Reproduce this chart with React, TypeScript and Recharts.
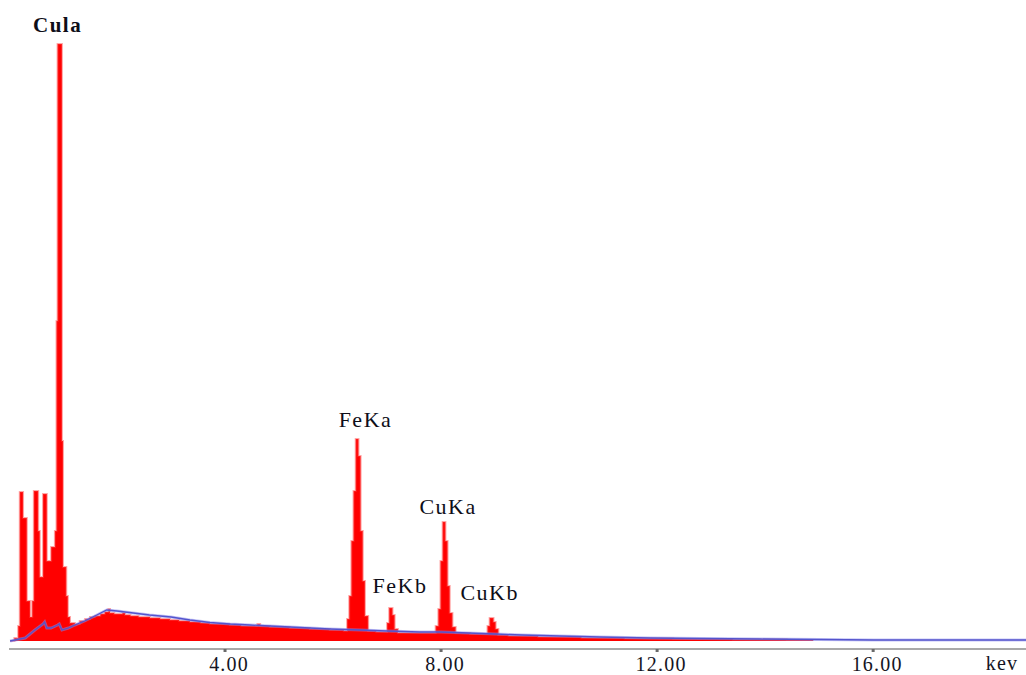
import React from 'react';
import { ComposedChart, Area, Line, XAxis, YAxis, ReferenceDot } from 'recharts';

// Measured spectrum: channel start energy (keV) and counts (arbitrary units)
const spectrumEnergy = [
  0.02, 0.1, 0.17, 0.2, 0.26, 0.33, 0.39, 0.43, 0.46, 0.54, 0.57, 0.63, 0.7, 0.78, 0.85, 0.88,
  0.9, 0.98, 1.0, 1.06, 1.09, 1.13, 1.22, 1.31, 1.41, 1.5, 1.59, 1.69, 1.77, 1.84, 1.87, 1.95,
  2.02, 2.1, 2.15, 2.25, 2.4, 2.5, 2.61, 2.8, 2.98, 3.15, 3.35, 3.55, 3.72, 3.9, 4.09, 4.3,
  4.46, 4.6, 4.65, 4.83, 5.0, 5.2, 5.4, 5.57, 5.75, 5.94, 6.1, 6.2, 6.26, 6.3, 6.34, 6.38,
  6.42, 6.47, 6.51, 6.55, 6.59, 6.65, 6.8, 6.96, 7.0, 7.04, 7.1, 7.14, 7.2, 7.4, 7.61, 7.85,
  7.9, 7.95, 7.99, 8.03, 8.08, 8.12, 8.16, 8.21, 8.27, 8.54, 8.82, 8.86, 8.9, 8.97, 9.01, 9.06,
  9.25, 9.46, 9.8, 10.2, 10.6, 10.94, 11.4, 11.87, 12.3, 12.8, 13.4, 13.9, 14.4, 14.89,
];
const spectrumCounts = [
  0, 3, 15, 149, 123, 40, 24, 40, 150, 110, 64, 147, 80, 94, 110, 320,
  597, 200, 74, 45, 24, 18, 17, 20, 22, 24, 25, 27, 29, 32, 28, 27,
  27, 28, 26, 25, 24, 24, 23, 22, 21, 20, 19, 18, 17, 17, 16, 15,
  15, 17, 15, 14, 14, 13, 13, 12, 12, 11, 11, 10, 22, 45, 100, 150,
  202, 185, 110, 60, 25, 10, 9, 9, 18, 33, 26, 12, 8, 8, 8, 8,
  15, 32, 80, 119, 100, 55, 28, 14, 8, 7, 7, 15, 23, 19, 12, 6,
  5, 5, 4, 4, 3, 3, 2.5, 2.5, 2, 2, 1.5, 1.5, 1, 1,
];

// Fitted background (blue line)
const backgroundEnergy = [
  0.02, 0.3, 0.48, 0.63, 0.66, 0.7, 0.78, 0.9, 0.93, 0.98, 1.1, 1.22, 1.4, 1.59, 1.81, 2.0,
  2.3, 2.6, 3.0, 3.35, 3.72, 4.09, 4.46, 4.83, 5.2, 5.57, 5.94, 6.5, 7.0, 7.6, 8.0, 8.5,
  9.0, 9.5, 10.2, 10.94, 11.87, 12.8, 13.9, 15.0, 16.0, 17.0, 18.83,
];
const backgroundCounts = [
  0, 3, 11, 17, 19, 13, 13, 16, 17, 11, 13, 16, 20, 25, 31, 30,
  28, 26, 24, 21, 18.5, 17, 16, 15, 14, 13, 12, 11, 10, 9, 9, 8,
  7, 6, 5, 4, 3, 2.5, 2, 1.5, 1, 1, 1,
];

const xTicks = [4, 8, 12, 16];
const axisUnit = 'kev';

const peakNames = ['Cula', 'FeKa', 'FeKb', 'CuKa', 'CuKb'];
const peakLabelEnergy = [0.9, 6.6, 7.24, 8.13, 8.9];
const peakLabelCounts = [609, 214, 48, 127, 41];
const peakLabelBold = [true, false, false, false, false];

// merged table for the chart
const merged = (() => {
  const map = new Map<number, any>();
  spectrumEnergy.forEach((e, i) => {
    map.set(e, { ...(map.get(e) || { e }), counts: spectrumCounts[i] });
  });
  backgroundEnergy.forEach((e, i) => {
    map.set(e, { ...(map.get(e) || { e }), bg: backgroundCounts[i] });
  });
  return Array.from(map.values()).sort((a, b) => a.e - b.e);
})();

const FONT = '"Liberation Serif", "Times New Roman", serif';

const Tick = (props: any) => {
  const { x, y, payload } = props;
  return (
    <text
      x={x + 4}
      y={y + 17}
      textAnchor="middle"
      fontFamily={FONT}
      fontSize={20}
      letterSpacing={1.2}
      fill="#15151f"
    >
      {Number(payload.value).toFixed(2)}
    </text>
  );
};

export default function App() {
  return (
    <div style={{ position: 'absolute', left: 0, top: 0, background: '#fff' }}>
      <ComposedChart
        width={1026}
        height={675}
        data={merged}
        margin={{ top: 1, right: 0, bottom: 0, left: 9 }}
      >
        <XAxis
          dataKey="e"
          type="number"
          domain={[0, 18.83]}
          ticks={xTicks}
          allowDataOverflow
          height={26}
          axisLine={{ stroke: '#8c8c8c', strokeWidth: 1.5 }}
          tickLine={{ stroke: '#6a6a6a', strokeWidth: 3 }}
          tickSize={3}
          tick={<Tick />}
          interval={0}
          label={(p: any) => {
            const vb = p.viewBox || {};
            return (
              <text
                x={(vb.x || 0) + (vb.width || 0) - 24}
                y={(vb.y || 0) + 21}
                textAnchor="middle"
                fontFamily={FONT}
                fontSize={20}
                letterSpacing={1.2}
                fill="#15151f"
              >
                {axisUnit}
              </text>
            );
          }}
        />
        <YAxis hide width={0} type="number" domain={[-8, 640]} allowDataOverflow />
        <Area
          dataKey="counts"
          type="stepAfter"
          fill="#ff0000"
          fillOpacity={1}
          stroke="rgba(255,60,60,0.45)"
          strokeWidth={2}
          connectNulls
          isAnimationActive={false}
          dot={false}
          activeDot={false}
        />
        <Line
          dataKey="bg"
          type="linear"
          stroke="rgba(140,140,240,0.5)"
          strokeWidth={3}
          dot={false}
          activeDot={false}
          connectNulls
          isAnimationActive={false}
        />
        <Line
          dataKey="bg"
          type="linear"
          stroke="#5454cc"
          strokeWidth={1.3}
          dot={false}
          activeDot={false}
          connectNulls
          isAnimationActive={false}
        />
        {peakNames.map((name, i) => (
          <ReferenceDot
            key={name}
            x={peakLabelEnergy[i]}
            y={peakLabelCounts[i]}
            r={0}
            ifOverflow="visible"
            shape={(p: any) => (
              <text
                x={p.cx}
                y={p.cy}
                textAnchor="middle"
                fontFamily={FONT}
                fontSize={peakLabelBold[i] ? 21 : 22}
                fontWeight={peakLabelBold[i] ? 'bold' : 'normal'}
                letterSpacing={1.5}
                fill="#0e0e18"
              >
                {name}
              </text>
            )}
          />
        ))}
      </ComposedChart>
    </div>
  );
}
